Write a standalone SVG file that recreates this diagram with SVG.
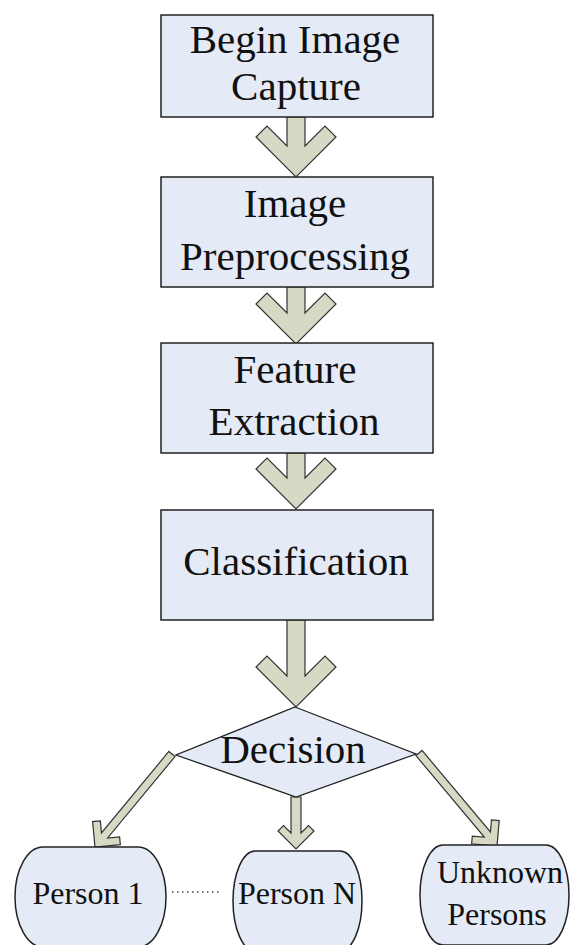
<svg xmlns="http://www.w3.org/2000/svg" width="572" height="945" viewBox="0 0 572 945">
<style>
.box{fill:#e4eaf6;stroke:#222;stroke-width:1.5}
.arr{fill:#d7d9c4;stroke:#333;stroke-width:1.2;stroke-linejoin:miter}
.t{font-family:"Liberation Serif","Times New Roman",serif;font-size:41px;fill:#111;text-anchor:middle}
.s{font-family:"Liberation Serif","Times New Roman",serif;font-size:32px;fill:#111;text-anchor:middle}
</style>
<rect width="572" height="945" fill="#ffffff"/>
<g id="connectors">
<path class="arr" transform="translate(296,177)" d="M-9,-60 L-9,-31 L-29,-51 L-40,-40 L0,0 L40,-40 L29,-51 L9,-31 L9,-60 Z"/>
<path class="arr" transform="translate(296,344)" d="M-9,-57 L-9,-31 L-29,-51 L-40,-40 L0,0 L40,-40 L29,-51 L9,-31 L9,-57 Z"/>
<path class="arr" transform="translate(296,509)" d="M-9,-56 L-9,-31 L-29,-51 L-40,-40 L0,0 L40,-40 L29,-51 L9,-31 L9,-56 Z"/>
<path class="arr" transform="translate(296,707)" d="M-9,-87 L-9,-31 L-29,-51 L-40,-40 L0,0 L40,-40 L29,-51 L9,-31 L9,-87 Z"/>
<path class="arr" transform="translate(95,847) rotate(39.6)" d="M-4,-120.7 L-4,-15 L-12.5,-23.5 L-18,-18 L0,0 L18,-18 L12.5,-23.5 L4,-15 L4,-120.7 Z"/>
<path class="arr" transform="translate(296,849)" d="M-5,-52 L-5,-16 L-12.5,-23.5 L-18,-18 L0,0 L18,-18 L12.5,-23.5 L5,-16 L5,-52 Z"/>
<path class="arr" transform="translate(497,846) rotate(-40)" d="M-4,-121.4 L-4,-15 L-12.5,-23.5 L-18,-18 L0,0 L18,-18 L12.5,-23.5 L4,-15 L4,-121.4 Z"/>
<line x1="172" y1="892" x2="222" y2="892" stroke="#444" stroke-width="1.3" stroke-dasharray="1.5 3.5"/>
</g>
<g id="begin">
<rect class="box" x="161" y="15" width="272" height="102"/>
<text class="t" x="295" y="53">Begin Image</text>
<text class="t" x="296" y="100">Capture</text>
</g>
<g id="preprocessing">
<rect class="box" x="161" y="177" width="272" height="110"/>
<text class="t" x="295" y="217">Image</text>
<text class="t" x="295" y="270">Preprocessing</text>
</g>
<g id="feature">
<rect class="box" x="161" y="343" width="272" height="110"/>
<text class="t" x="295" y="383">Feature</text>
<text class="t" x="294" y="435">Extraction</text>
</g>
<g id="classification">
<rect class="box" x="161" y="510" width="272" height="110"/>
<text class="t" x="296" y="575">Classification</text>
</g>
<g id="decision">
<polygon points="295,707 416,754 296,797 176,755" fill="#e4eaf6" stroke="#222" stroke-width="1.3"/>
<text class="t" x="293" y="763">Decision</text>
</g>
<g id="person1">
<rect class="box" x="15" y="847" width="151" height="100" rx="28" ry="50"/>
<text class="s" x="88" y="904">Person 1</text>
</g>
<g id="personN">
<rect class="box" x="233" y="851" width="129" height="100" rx="22" ry="50"/>
<text class="s" x="297" y="904">Person N</text>
</g>
<g id="unknown">
<rect class="box" x="420" y="845" width="149" height="100" rx="23" ry="50"/>
<text class="s" x="500" y="883">Unknown</text>
<text class="s" x="497" y="925">Persons</text>
</g>
</svg>
